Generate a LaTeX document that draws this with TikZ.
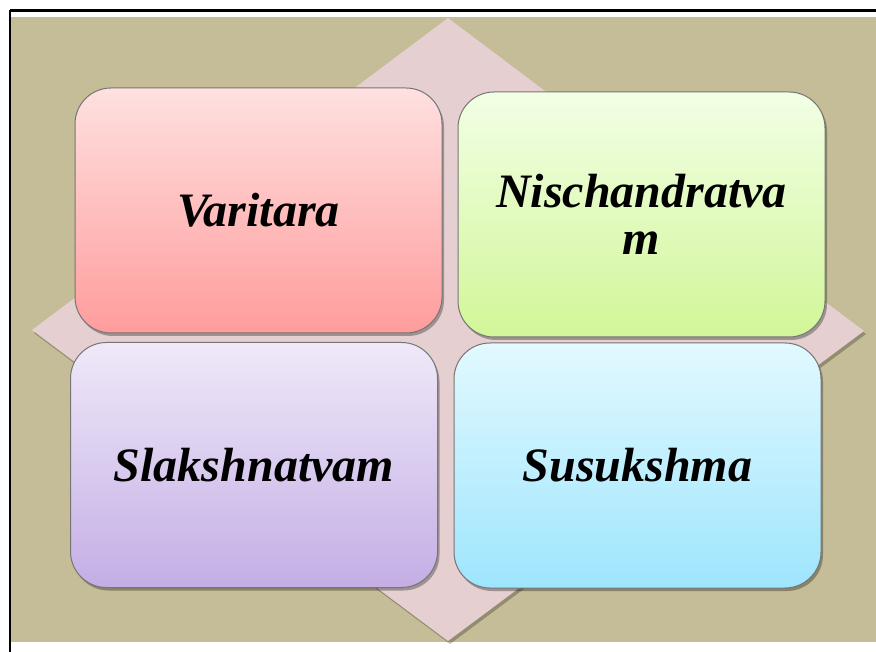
\documentclass[tikz,border=0pt]{standalone}
\usepackage{fontspec}
\setmainfont{Liberation Serif}
\usepackage{tikz}
\usetikzlibrary{shadows}
\definecolor{tan}{RGB}{196,189,151}
\definecolor{rhomb}{RGB}{229,207,208}
\definecolor{rimgray}{RGB}{118,118,118}
\tikzset{
  card/.style   = {draw=rimgray, line width=1pt, rounded corners=36pt,
                   minimum width=367pt, minimum height=245pt, align=center,
                   font=\fontsize{48}{47}\selectfont\bfseries\itshape,
                   drop shadow={shadow xshift=2pt, shadow yshift=-3pt,
                                opacity=0.3, fill=black}},
  redcard/.style    = {card, top color={rgb,255:red,255;green,224;blue,224},
                       bottom color={rgb,255:red,255;green,156;blue,156}},
  greencard/.style  = {card, top color={rgb,255:red,242;green,255;blue,229},
                       bottom color={rgb,255:red,210;green,246;blue,152}},
  violetcard/.style = {card, top color={rgb,255:red,239;green,233;blue,249},
                       bottom color={rgb,255:red,196;green,174;blue,229}},
  bluecard/.style   = {card, top color={rgb,255:red,226;green,249;blue,255},
                       bottom color={rgb,255:red,158;green,229;blue,253}},
  frame/.style  = {line width=2.2pt, black}
}
\begin{document}
\begin{tikzpicture}[x=1pt,y=-1pt]
  \useasboundingbox[fill=white] (0,0) rectangle (876,652);
  % ---- backdrop ----
  \fill[tan] (10,17) rectangle (876,642);
  \draw[frame] (10,10.5) -- (876,10.5);
  \draw[frame] (10,10) -- (10,652);
  \fill[black, opacity=0.25] (450,21) -- (866,334) -- (450,644) -- (34,333) -- cycle;
  \fill[rhomb] (448,18) -- (864,331) -- (448,641) -- (32,330) -- cycle;

  % ---- four cards ----
  \node[redcard]    (vari) at (258.5,210.5) {Varitara};
  \node[greencard]  (nisc) at (641.5,214.5) {Nischandratva\\m};
  \node[violetcard] (slak) at (254,465)     {Slakshnatvam};
  \node[bluecard]   (susu) at (637.5,465.5) {Susukshma};
\end{tikzpicture}
\end{document}
